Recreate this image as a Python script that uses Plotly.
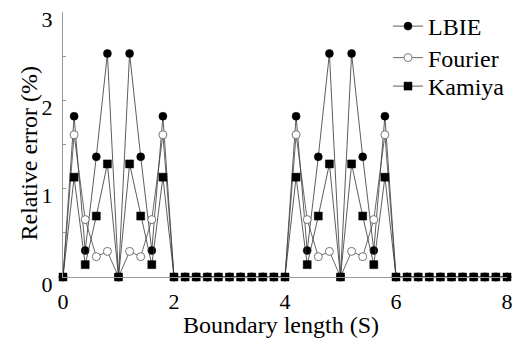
import plotly.graph_objects as go

boundary_length = [0.0, 0.2, 0.4, 0.6, 0.8, 1.0, 1.2, 1.4, 1.6, 1.8,
                   2.0, 2.2, 2.4, 2.6, 2.8, 3.0, 3.2, 3.4, 3.6, 3.8,
                   4.0, 4.2, 4.4, 4.6, 4.8, 5.0, 5.2, 5.4, 5.6, 5.8,
                   6.0, 6.2, 6.4, 6.6, 6.8, 7.0, 7.2, 7.4, 7.6, 7.8, 8.0]

lbie = [0, 1.82, 0.30, 1.36, 2.53, 0, 2.53, 1.36, 0.30, 1.82,
        0, 0, 0, 0, 0, 0, 0, 0, 0, 0,
        0, 1.82, 0.30, 1.36, 2.53, 0, 2.53, 1.36, 0.30, 1.82,
        0, 0, 0, 0, 0, 0, 0, 0, 0, 0, 0]

fourier = [0, 1.61, 0.65, 0.23, 0.29, 0, 0.29, 0.23, 0.65, 1.61,
           0, 0, 0, 0, 0, 0, 0, 0, 0, 0,
           0, 1.61, 0.65, 0.23, 0.29, 0, 0.29, 0.23, 0.65, 1.61,
           0, 0, 0, 0, 0, 0, 0, 0, 0, 0, 0]

kamiya = [0, 1.13, 0.14, 0.69, 1.28, 0, 1.28, 0.69, 0.14, 1.13,
          0, 0, 0, 0, 0, 0, 0, 0, 0, 0,
          0, 1.13, 0.14, 0.69, 1.28, 0, 1.28, 0.69, 0.14, 1.13,
          0, 0, 0, 0, 0, 0, 0, 0, 0, 0, 0]

x_ticks = [0, 2, 4, 6, 8]
y_ticks = [0, 1, 2, 3]
x_title = "Boundary length (S)"
y_title = "Relative error (%)"

FONT = "Liberation Serif, Times New Roman, serif"
LINE = "#333333"
LEG_FONT = dict(family=FONT, size=24, color="black")

fig = go.Figure()
fig.add_trace(go.Scatter(
    x=boundary_length, y=lbie, name="LBIE", mode="lines+markers", legend="legend",
    line=dict(color=LINE, width=0.8),
    marker=dict(symbol="circle", size=8, color="black", line=dict(color="black", width=0.5)),
    cliponaxis=False))
fig.add_trace(go.Scatter(
    x=boundary_length, y=fourier, name="Fourier", mode="lines+markers", legend="legend2",
    line=dict(color="#444444", width=0.8),
    marker=dict(symbol="circle", size=8, color="white", line=dict(color="#555555", width=0.8)),
    cliponaxis=False))
fig.add_trace(go.Scatter(
    x=boundary_length, y=kamiya, name="Kamiya", mode="lines+markers", legend="legend3",
    line=dict(color=LINE, width=0.8),
    marker=dict(symbol="square", size=8, color="black", line=dict(color="black", width=0.5)),
    cliponaxis=False))

leg_common = dict(x=0.732, xanchor="left", yanchor="middle", font=LEG_FONT,
                  bgcolor="rgba(0,0,0,0)")

fig.update_layout(
    width=523, height=330,
    margin=dict(l=55, r=24, t=4, b=61, autoexpand=False),
    plot_bgcolor="white", paper_bgcolor="white",
    font=dict(family=FONT, size=22, color="black"),
    showlegend=True,
    legend=dict(y=0.9453, **leg_common),
    legend2=dict(y=0.8264, **leg_common),
    legend3=dict(y=0.7189, **leg_common),
    annotations=[
        dict(text=x_title, xref="paper", yref="paper", x=0.491, y=-0.183,
             xanchor="center", yanchor="middle", showarrow=False,
             font=dict(family=FONT, size=24, color="black")),
        dict(text=y_title, xref="paper", yref="paper", x=-0.0788, y=0.466,
             xanchor="center", yanchor="middle", showarrow=False, textangle=-90,
             font=dict(family=FONT, size=24, color="black")),
    ],
)
fig.update_xaxes(
    range=[0, 8], tickvals=x_ticks, ticktext=[str(v) for v in x_ticks],
    showgrid=False, zeroline=False, showline=True, linecolor="#999999", linewidth=1,
    ticks="", automargin=False, ticklabelstandoff=5,
    tickfont=dict(family=FONT, size=22, color="black"),
)
fig.update_yaxes(
    range=[0, 3], tickvals=y_ticks, ticktext=[str(v) for v in y_ticks],
    showgrid=False, zeroline=False, showline=True, linecolor="#999999", linewidth=1,
    ticks="inside", ticklen=3, tickcolor="#999999", automargin=False,
    minor=dict(dtick=0.5, ticks="inside", ticklen=3, tickcolor="#999999"),
    ticklabelshift=7, ticklabelstandoff=5, ticklabeloverflow="allow",
    tickfont=dict(family=FONT, size=22, color="black"),
)

fig.write_html("out.html")
